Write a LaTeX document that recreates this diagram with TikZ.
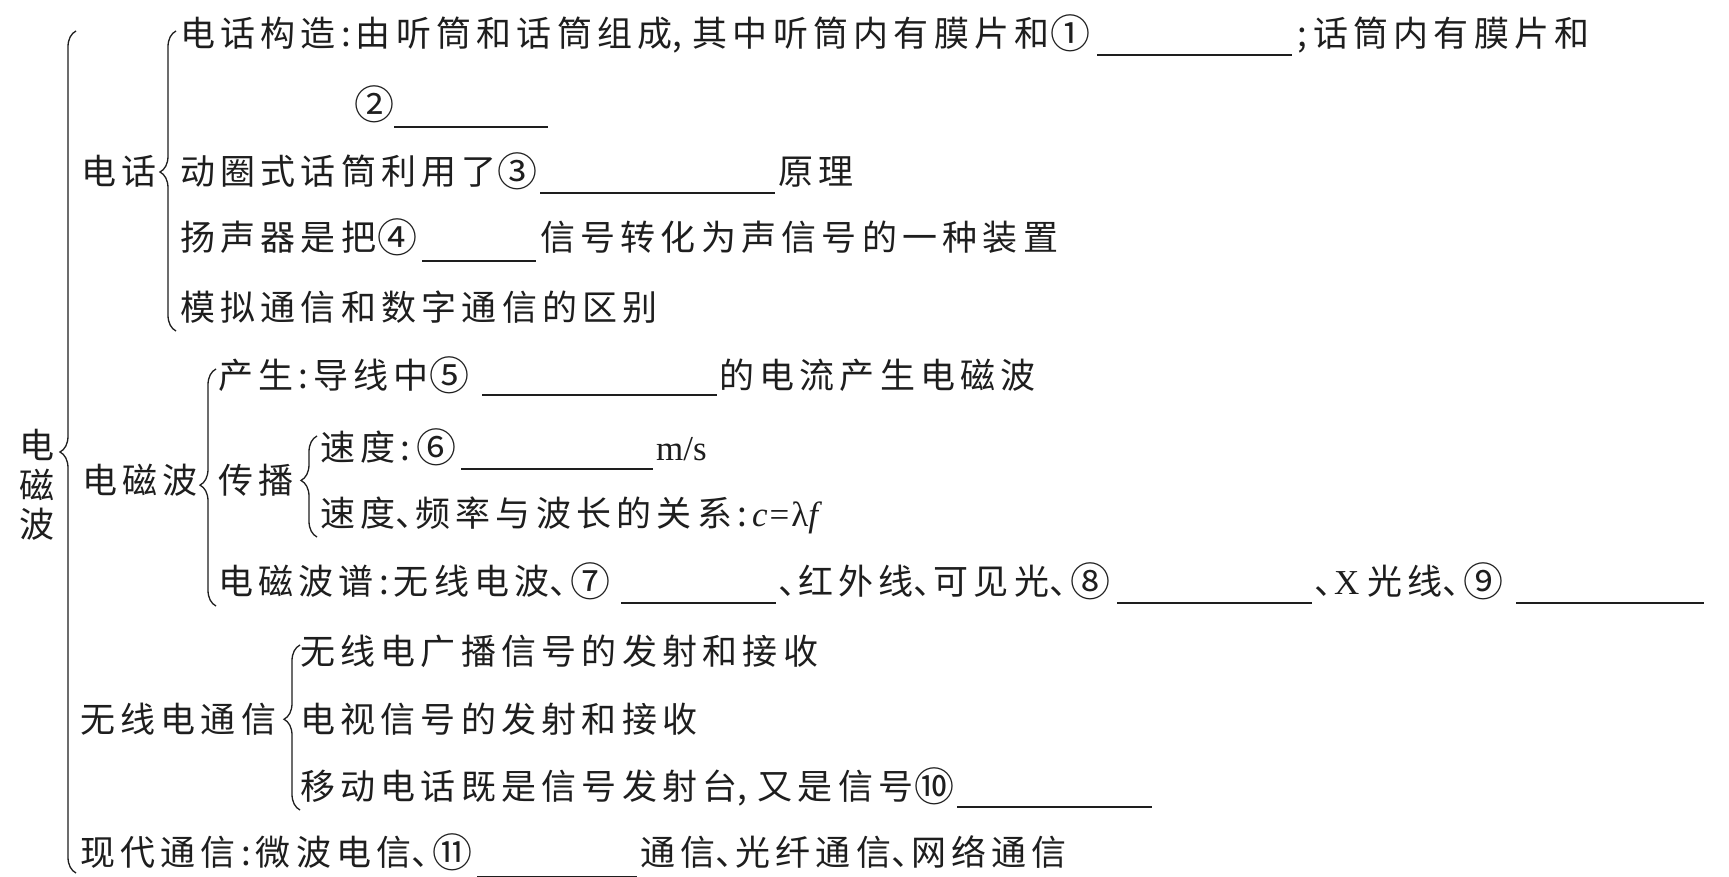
\documentclass[tikz,border=0pt]{standalone}
\usepackage{fontspec}
\setmainfont{Noto Sans CJK SC}[LetterSpace=15]
\newfontfamily\latinserif{Liberation Serif}
\newfontfamily\circfont{Noto Sans CJK SC}
\usetikzlibrary{decorations.pathreplacing}
\definecolor{ink}{HTML}{1E1E1E}
\newcommand\hcolon{\makebox[20pt][c]{:}}
\newcommand\hcomma{\makebox[20pt][l]{,}}
\newcommand\hdun{\makebox[20pt][l]{、}}
\newcommand\hsemi{\makebox[16pt][l]{;}}
\newcommand\cnum[1]{\makebox[40pt][l]{\hspace{1pt}\raisebox{-2pt}{\circfont\fontsize{40}{40}\selectfont #1}}}
\tikzset{
  txt/.style={anchor=base west, inner sep=0pt, text=ink, font=\fontsize{35}{40}\selectfont},
  brc/.style={draw=ink, line width=1.3pt, decorate, decoration={brace, amplitude=16pt, aspect=#1}},
  blank/.style={draw=ink, line width=1.6pt},
}
\begin{document}
\begin{tikzpicture}[x=1pt,y=-1pt]
\useasboundingbox (0,0) rectangle (1729,877);
\fill[white] (0,0) rectangle (1729,877);

% root label (vertical)
\node (root) [inner sep=0pt, text=ink, align=center, font=\fontsize{35}{39.5}\selectfont] at (37,485) {电\\磁\\波};

% braces
\coordinate (b0t) at (76,31);   \coordinate (b0b) at (76,873);
\coordinate (b1t) at (176,31);  \coordinate (b1b) at (176,331);
\coordinate (b2t) at (216,369); \coordinate (b2b) at (216,606);
\coordinate (b3t) at (317,436); \coordinate (b3b) at (317,537);
\coordinate (b4t) at (300,645); \coordinate (b4b) at (300,810);
\draw[brc=0.5]  (b0b) -- (b0t);
\draw[brc=0.53] (b1b) -- (b1t);
\draw[brc=0.51] (b2b) -- (b2t);
\draw[brc=0.56] (b3b) -- (b3t);
\draw[brc=0.55] (b4b) -- (b4t);

% 电话
\node[txt] (dh) at (81,185) {电话};
\node[txt] (r1a) at (180,47) {电话构造\hcolon{}由听筒和话筒组成\hcomma{}其中听筒内有膜片和\cnum{①}};
\draw[blank] (1097,55) -- (1292,55);
\node[txt] (r1b) at (1297,47) {\hsemi{}话筒内有膜片和};
\node[txt] (r2a) at (353,118) {\cnum{②}};
\draw[blank] (394,127) -- (548,127);
\node[txt] (r3a) at (180,185) {动圈式话筒利用了\cnum{③}};
\draw[blank] (540,193) -- (775,193);
\node[txt] (r3b) at (778,185) {原理};
\node[txt] (r4a) at (180,251) {扬声器是把\cnum{④}};
\draw[blank] (422,261) -- (536,261);
\node[txt] (r4b) at (540,251) {信号转化为声信号的一种装置};
\node[txt] (r5a) at (180,320) {模拟通信和数字通信的区别};

% 电磁波
\node[txt] (dcb) at (82,493) {电磁波};
\node[txt] (r6a) at (218,388) {产生\hcolon{}导线中\cnum{⑤}};
\draw[blank] (482,395) -- (717,395);
\node[txt] (r6b) at (719,388) {的电流产生电磁波};
\node[txt] (cb) at (218,493) {传播};
\node[txt] (r7a) at (320,460) {速度\hcolon{}\cnum{⑥}};
\draw[blank] (461,469) -- (653,469);
\node[txt] (r7b) at (656,460) {\latinserif m/s};
\node[txt] (r8a) at (320,526) {速度\hdun{}频率与波长的关系\hcolon{}{\latinserif\itshape c}\hspace{2pt}{\latinserif =}\hspace{2pt}{\latinserif λ}{\latinserif\itshape f}};
\node[txt] (r9a) at (218,594) {电磁波谱\hcolon{}无线电波\hdun{}\cnum{⑦}};
\draw[blank] (621,603) -- (776,603);
\node[txt] (r9b) at (778,594) {\hdun{}红外线\hdun{}可见光\hdun{}\cnum{⑧}};
\draw[blank] (1117,603) -- (1312,603);
\node[txt] (r9c) at (1314,594) {\hdun{}{\latinserif X}\hspace{8pt}光线\hdun{}\cnum{⑨}};
\draw[blank] (1516,603) -- (1704,603);

% 无线电通信
\node[txt] (wx) at (80,732) {无线电通信};
\node[txt] (r10a) at (300,664) {无线电广播信号的发射和接收};
\node[txt] (r11a) at (300,732) {电视信号的发射和接收};
\node[txt] (r12a) at (300,799) {移动电话既是信号发射台\hcomma{}又是信号\cnum{⑩}};
\draw[blank] (957,807) -- (1152,807);

% 现代通信
\node[txt] (xd) at (80,865) {现代通信\hcolon{}微波电信\hdun{}\cnum{⑪}};
\draw[blank] (477,877) -- (637,877);
\node[txt] (r13b) at (640,865) {通信\hdun{}光纤通信\hdun{}网络通信};
\end{tikzpicture}
\end{document}
